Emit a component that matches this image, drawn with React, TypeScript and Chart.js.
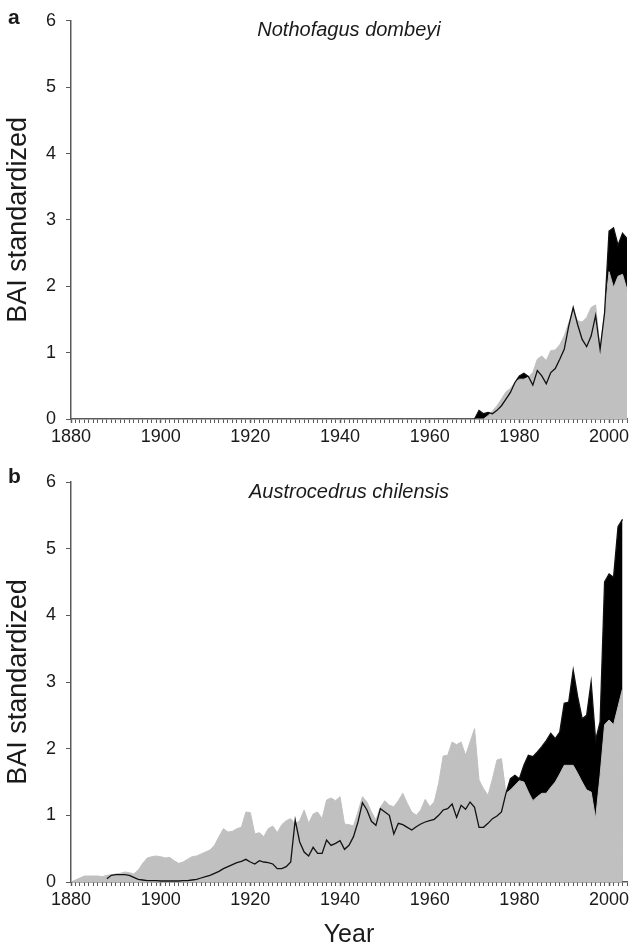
import React, { useEffect, useRef } from "react";
import { Chart, registerables } from "chart.js";

Chart.register(...registerables);

const FONT = '"Liberation Sans", Arial, Helvetica, sans-serif';
const YEAR_MIN = 1880;
const YEAR_MAX = 2004;
const X_LABEL_YEARS = [1880, 1900, 1920, 1940, 1960, 1980, 2000];
const Y_MIN = 0;
const Y_MAX = 6;
const Y_TITLE = "BAI standardized";
const X_TITLE = "Year";

// Panel a: Nothofagus dombeyi (values per year from A_START)
const A_LETTER = "a";
const A_SPECIES = "Nothofagus dombeyi";
const A_START = 1970;
const aGray = [
  0, 0, 0, 0.05, 0.12, 0.2, 0.3, 0.41, 0.46, 0.55,
  0.6, 0.6, 0.63, 0.7, 0.9, 0.95, 0.88, 1.03, 1.04, 1.12,
  1.25, 1.45, 1.64, 1.48, 1.46, 1.53, 1.68, 1.72, 1.05, 1.6,
  2.22, 1.98, 2.15, 2.18, 1.95,
];
const aLine = [
  0.0, 0.13, 0.08, 0.1, 0.08, 0.13, 0.2, 0.3, 0.4, 0.55,
  0.65, 0.69, 0.64, 0.51, 0.73, 0.65, 0.53, 0.7, 0.76, 0.9,
  1.05, 1.4, 1.68, 1.42, 1.2, 1.09, 1.25, 1.56, 1.05, 1.6,
  2.83, 2.88, 2.62, 2.8, 2.72,
];

// Panel b: Austrocedrus chilensis
const B_LETTER = "b";
const B_SPECIES = "Austrocedrus chilensis";
const B_GRAY_START = 1880;
const bGray = [
  0.0, 0.03, 0.06, 0.09, 0.09, 0.09, 0.09, 0.08, 0.1, 0.11,
  0.12, 0.13, 0.15, 0.14, 0.12, 0.18, 0.28, 0.36, 0.38, 0.39,
  0.38, 0.36, 0.37, 0.32, 0.28, 0.3, 0.34, 0.38, 0.39, 0.42,
  0.45, 0.48, 0.55, 0.68, 0.8, 0.75, 0.76, 0.8, 0.82, 1.05,
  1.04, 0.72, 0.74, 0.68, 0.8, 0.84, 0.74, 0.86, 0.92, 0.95,
  0.87, 0.92, 1.08, 0.88, 1.02, 1.05, 0.95, 1.23, 1.26, 1.22,
  1.28, 0.87, 0.86, 0.84, 1.05, 1.28, 1.2, 1.05, 0.93, 1.12,
  1.22, 1.15, 1.13, 1.22, 1.33, 1.18, 1.05, 1.0, 1.08, 1.24,
  1.13, 1.2, 1.48, 1.89, 1.9, 2.1, 2.06, 2.1, 1.9, 2.1,
  2.3, 1.53, 1.4, 1.3, 1.55, 1.83, 1.85, 1.33, 1.38, 1.45,
  1.52, 1.5, 1.35, 1.22, 1.28, 1.33, 1.33, 1.42, 1.5, 1.62,
  1.75, 1.75, 1.75, 1.63, 1.5, 1.38, 1.35, 0.95, 1.6, 2.36,
  2.43, 2.36, 2.63, 2.9,
];
const B_LINE_START = 1888;
const bLine = [
  0.05, 0.1,
  0.11, 0.11, 0.11, 0.1, 0.07, 0.04, 0.03, 0.02, 0.02, 0.02,
  0.015, 0.015, 0.015, 0.015, 0.015, 0.02, 0.02, 0.03, 0.04, 0.06,
  0.08, 0.1, 0.13, 0.16, 0.2, 0.23, 0.26, 0.29, 0.31, 0.34,
  0.3, 0.27, 0.32, 0.3, 0.29, 0.27, 0.2, 0.2, 0.23, 0.3,
  0.93, 0.6, 0.45, 0.39, 0.52, 0.43, 0.43, 0.63, 0.55, 0.58,
  0.62, 0.49, 0.55, 0.68, 0.9, 1.19, 1.08, 0.91, 0.85, 1.1,
  1.05, 1.0, 0.72, 0.88, 0.86, 0.82, 0.78, 0.83, 0.87, 0.9,
  0.92, 0.94, 1.0, 1.08, 1.1, 1.17, 0.97, 1.15, 1.09, 1.2,
  1.12, 0.82, 0.82, 0.88, 0.95, 0.99, 1.05, 1.33, 1.55, 1.6,
  1.55, 1.75, 1.9, 1.88, 1.95, 2.03, 2.12, 2.23, 2.15, 2.25,
  2.68, 2.7, 3.18, 2.78, 2.45, 2.5, 3.0, 2.13, 2.4, 4.5,
  4.62, 4.57, 5.33, 5.44,
];

const toPoints = (start: number, arr: number[]) =>
  arr.map((v, i) => ({ x: start + i, y: v }));

const AXIS_COLOR = "#5a5a5a";
const TEXT_COLOR = "#1a1a1a";

const panelTextPlugin = {
  id: "panelText",
  afterDraw(chart: any, _args: any, opts: any) {
    const { ctx, chartArea } = chart;
    ctx.save();
    ctx.fillStyle = TEXT_COLOR;
    ctx.textBaseline = "middle";
    ctx.textAlign = "center";
    ctx.font = `italic 20px ${FONT}`;
    ctx.fillText(opts.title, (chartArea.left + chartArea.right) / 2, chartArea.top + opts.titleDy);
    ctx.textAlign = "left";
    ctx.font = `bold 21px ${FONT}`;
    ctx.fillText(opts.letter, opts.letterX, chartArea.top + opts.letterDy);
    ctx.restore();
  },
};

type PanelProps = {
  height: number;
  gray: { x: number; y: number }[];
  line: { x: number; y: number }[];
  padTop: number;
  xAxisHeight: number;
  showXTitle: boolean;
  species: string;
  letter: string;
  letterDy: number;
};

function Panel(p: PanelProps) {
  const ref = useRef<HTMLCanvasElement | null>(null);
  useEffect(() => {
    if (!ref.current) return;
    const chart = new Chart(ref.current, {
      type: "line",
      data: {
        datasets: [
          {
            data: p.line,
            fill: "origin",
            backgroundColor: "#000000",
            borderColor: "rgba(0,0,0,0)",
            borderWidth: 1,
            pointRadius: 0,
            tension: 0,
            order: 3,
          },
          {
            data: p.gray,
            fill: "origin",
            backgroundColor: "#c0c0c0",
            borderColor: "#c0c0c0",
            borderWidth: 1,
            pointRadius: 0,
            tension: 0,
            order: 2,
          },
          {
            data: p.line,
            fill: false,
            borderColor: "#111111",
            borderWidth: 1.3,
            pointRadius: 0,
            tension: 0,
            order: 1,
          },
        ],
      } as any,
      options: {
        animation: false,
        responsive: false,
        devicePixelRatio: 1,
        events: [],
        layout: { padding: { left: 0, top: p.padTop, right: 5, bottom: 0 } },
        plugins: {
          legend: { display: false },
          tooltip: { enabled: false },
          panelText: {
            title: p.species,
            titleDy: 10,
            letter: p.letter,
            letterX: 8,
            letterDy: p.letterDy,
          },
        } as any,
        scales: {
          x: {
            type: "linear",
            min: YEAR_MIN,
            max: YEAR_MAX,
            z: 1,
            afterFit: (s: any) => {
              s.height = p.xAxisHeight;
            },
            ticks: {
              stepSize: 1,
              autoSkip: false,
              maxRotation: 0,
              minRotation: 0,
              padding: 3,
              color: TEXT_COLOR,
              font: { family: FONT, size: 18 },
              callback: (v: any) => (X_LABEL_YEARS.includes(Number(v)) ? String(v) : ""),
            },
            grid: {
              display: true,
              drawOnChartArea: false,
              drawTicks: true,
              tickLength: 4,
              tickColor: AXIS_COLOR,
              tickWidth: (c: any) => (c.tick && c.tick.value % 20 === 0 ? 1.5 : 1),
              color: AXIS_COLOR,
            },
            border: { display: true, color: AXIS_COLOR, width: 1.5 },
            title: {
              display: p.showXTitle,
              text: X_TITLE,
              color: TEXT_COLOR,
              font: { family: FONT, size: 25, lineHeight: 1 },
              padding: { top: 0, bottom: 0 },
            },
          },
          y: {
            type: "linear",
            min: Y_MIN,
            max: Y_MAX,
            z: 1,
            afterFit: (s: any) => {
              s.width = 71;
            },
            ticks: {
              stepSize: 1,
              padding: 10,
              color: TEXT_COLOR,
              font: { family: FONT, size: 18 },
            },
            grid: {
              display: true,
              drawOnChartArea: false,
              drawTicks: true,
              tickLength: 5,
              tickColor: AXIS_COLOR,
              color: AXIS_COLOR,
            },
            border: { display: true, color: AXIS_COLOR, width: 1.5 },
            title: {
              display: true,
              text: Y_TITLE,
              color: TEXT_COLOR,
              font: { family: FONT, size: 27, lineHeight: 1.2 },
              padding: { top: 2, bottom: 0 },
            },
          },
        } as any,
      },
      plugins: [panelTextPlugin as any],
    });
    return () => chart.destroy();
  }, []);
  return (
    <canvas
      ref={ref}
      width={632}
      height={p.height}
      style={{ display: "block", width: 632, height: p.height }}
    />
  );
}

export default function App() {
  return (
    <div
      style={{
        position: "absolute",
        left: 0,
        top: 0,
        width: 632,
        height: 948,
        background: "#ffffff",
      }}
    >
      <Panel
        height={460}
        gray={toPoints(A_START, aGray)}
        line={toPoints(A_START, aLine)}
        padTop={19}
        xAxisHeight={41}
        showXTitle={false}
        species={A_SPECIES}
        letter={A_LETTER}
        letterDy={-3}
      />
      <Panel
        height={488}
        gray={toPoints(B_GRAY_START, bGray)}
        line={toPoints(B_LINE_START, bLine)}
        padTop={22}
        xAxisHeight={66}
        showXTitle={true}
        species={B_SPECIES}
        letter={B_LETTER}
        letterDy={-5}
      />
    </div>
  );
}
